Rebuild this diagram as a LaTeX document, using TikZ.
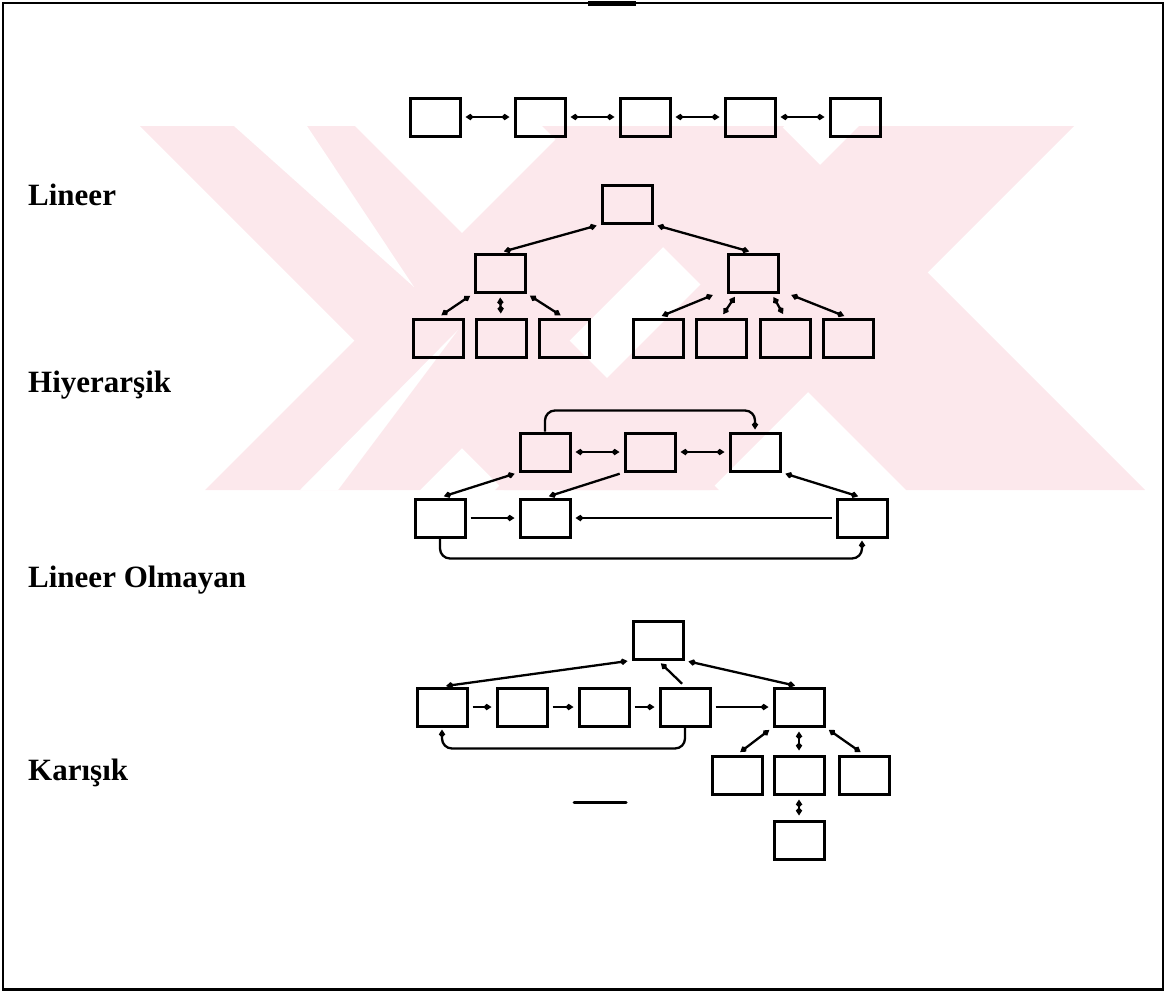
\documentclass[tikz,border=0pt]{standalone}
\usepackage{fontspec}
\setmainfont{Liberation Serif}
\usetikzlibrary{arrows.meta,calc}

\definecolor{wmpink}{RGB}{252,232,236}

\tikzset{
  box/.style={draw, line width=3pt, minimum width=50pt, minimum height=38pt, inner sep=0pt},
  conn/.style={line width=2.3pt, shorten >=4pt, shorten <=4pt},
  loop/.style={line width=2.3pt, rounded corners=10pt, shorten >=2pt},
  lbl/.style={anchor=base west, inner sep=0pt, font=\fontsize{31}{36}\selectfont\bfseries},
  band/.style={fill=wmpink, draw=none}
}

\begin{document}
\begin{tikzpicture}[x=1pt, y=-1pt, >={Kite[length=8pt,width=6.5pt,inset=3pt]}]
\useasboundingbox (0,0) rectangle (1166,994);

% background emblem: two crossed pairs of diagonal strokes, cut to a strip
\begin{scope}
  \clip (0,126) rectangle (1166,490);
  \fill[band] (140,126) -- (355,126) -- (719,490) -- (504,490) -- cycle;
  \fill[band] (569,126) -- (784,126) -- (420,490) -- (205,490) -- cycle;
  \fill[band] (542,126) -- (781,126) -- (1145,490) -- (906,490) -- cycle;
  \fill[band] (859,126) -- (1074,126) -- (710,490) -- (495,490) -- cycle;
  \fill[white] (234,126) -- (307,126) -- (414,287) -- cycle;
  \fill[white] (300,490) -- (338,490) -- (458,330) -- cycle;
\end{scope}

% frame
\draw[line width=1.5pt] (3,3) rectangle (1163,990);
\draw[line width=1.5pt] (3,989) -- (1163,989);
\fill (588,1) rectangle (636,6);
\draw[line width=3pt, line cap=round] (574,802) -- (626,802);

% labels
\node[lbl] (tlin) at (28,205) {Lineer};
\node[lbl] (thiy) at (28,392) {Hiyerarşik};
\node[lbl] (tnon) at (28,587) {Lineer Olmayan};
\node[lbl] (tmix) at (28,780) {Karışık};

% ---- linear chain
\foreach \i/\x in {1/435,2/540,3/645,4/750,5/855}
  \node[box] (a\i) at (\x,117) {};
\foreach \i/\j in {1/2,2/3,3/4,4/5}
  \draw[conn,<->] (a\i) -- (a\j);

% ---- hierarchy
\node[box] (h0) at (627,204) {};
\node[box] (hL) at (500,273) {};
\node[box] (hR) at (753,273) {};
\foreach \n/\x in {l1/438,l2/501,l3/564,r1/658,r2/721,r3/785,r4/848}
  \node[box] (\n) at (\x,338) {};
\draw[conn,<->] (hL.north) -- (h0.south west);
\draw[conn,<->] (h0.south east) -- (hR.north);
\draw[conn,<->] (hL.south west) -- (l1.north);
\draw[conn,<->] (hL.south) -- (l2.north);
\draw[conn,<->] (hL.south east) -- (l3.north);
\draw[conn,<->] ($(hR.south west)+(-10,0)$) -- (r1.north);
\draw[conn,<->] ($(hR.south west)!0.2!(hR.south east)$) -- (r2.north);
\draw[conn,<->] ($(hR.south west)!0.85!(hR.south east)$) -- (r3.north);
\draw[conn,<->] ($(hR.south east)+(8,0)$) -- (r4.north);

% ---- non-linear
\node[box] (n1) at (545,452) {};
\node[box] (n2) at (650,452) {};
\node[box] (n3) at (755,452) {};
\node[box] (m1) at (440,518) {};
\node[box] (m2) at (545,518) {};
\node[box] (m3) at (862,518) {};
\draw[conn,<->] (n1) -- (n2);
\draw[conn,<->] (n2) -- (n3);
\draw[conn,<->] (m1.north) -- (n1.south west);
\draw[conn,->] (n2.south west) -- (m2.north);
\draw[conn,<->] (n3.south east) -- (m3.north);
\draw[conn,->] (m1) -- (m2);
\draw[conn,->] (m3) -- (m2);
\draw[loop,->] (n1.north) -- ++(0,-21) -| (n3.north);
\draw[loop,->] (m1.south) -- ++(0,20) -| (m3.south);

% ---- mixed
\node[box] (k0) at (658,640) {};
\foreach \i/\x in {1/442,2/522,3/604,4/685,5/799}
  \node[box] (k\i) at (\x,707) {};
\node[box] (c1) at (737,775) {};
\node[box] (c2) at (799,775) {};
\node[box] (c3) at (864,775) {};
\node[box] (c4) at (799,840) {};
\draw[conn,<->] (k1.north) -- (k0.south west);
\draw[conn,->] (k4.north) -- (k0.south);
\draw[conn,<->] (k0.south east) -- (k5.north);
\foreach \i/\j in {1/2,2/3,3/4,4/5}
  \draw[conn,->] (k\i) -- (k\j);
\draw[loop,->] (k4.south) -- ++(0,21) -| (k1.south);
\draw[conn,<->] (k5.south west) -- (c1.north);
\draw[conn,<->] (k5.south) -- (c2.north);
\draw[conn,<->] (k5.south east) -- (c3.north);
\draw[conn,<->] (c2) -- (c4);
\end{tikzpicture}
\end{document}
